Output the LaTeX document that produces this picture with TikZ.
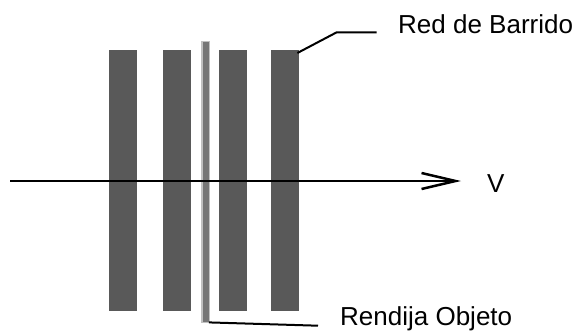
\documentclass[tikz,border=0pt]{standalone}
\usepackage{fontspec}
\setmainfont{Liberation Sans}
\usetikzlibrary{arrows.meta}
\definecolor{bargray}{RGB}{89,89,89}
\definecolor{slitlight}{RGB}{192,192,192}
\definecolor{slitdark}{RGB}{118,118,118}
\begin{document}
\begin{tikzpicture}[x=1pt,y=-1pt,
  bar/.style={fill=bargray,draw=none,inner sep=0pt,minimum width=28pt,minimum height=261pt,anchor=north west},
  lbl/.style={font=\fontsize{26}{30}\selectfont,inner sep=0pt,anchor=base west},
  leader/.style={line width=2pt,black}]
\useasboundingbox (0,0) rectangle (578,333);
\node[bar] (b1) at (109,50) {};
\node[bar] (b2) at (163,50) {};
\node[bar] (b3) at (219,50) {};
\node[bar] (b4) at (271,50) {};
\node[fill=slitlight,draw=none,inner sep=0pt,minimum width=9.5pt,minimum height=282pt,anchor=north west] (s) at (200.7,41) {};
\node[fill=slitdark,draw=none,inner sep=0pt,minimum width=5.5pt,minimum height=280pt,anchor=north west] (si) at (203,42) {};
\node[lbl] (red) at (398,33) {Red de Barrido};
\node[lbl] (ren) at (340,325) {Rendija Objeto};
\node[lbl] (v) at (487,192.5) {V};
\coordinate (k1) at (336.7,32.3);
\coordinate (k1e) at (376.7,32.3);
\coordinate (k2) at (318,325.7);
\coordinate (a0) at (10,181);
\coordinate (a1) at (461,181);
\draw[leader] (b4.north east) ++(-2,3) -- (k1) -- (k1e);
\draw[leader] (si.south east) -- (k2);
\draw[line width=2pt,-{Straight Barb[length=34pt,width=16pt,line width=2.5pt]}] (a0) -- (a1);
\end{tikzpicture}
\end{document}
